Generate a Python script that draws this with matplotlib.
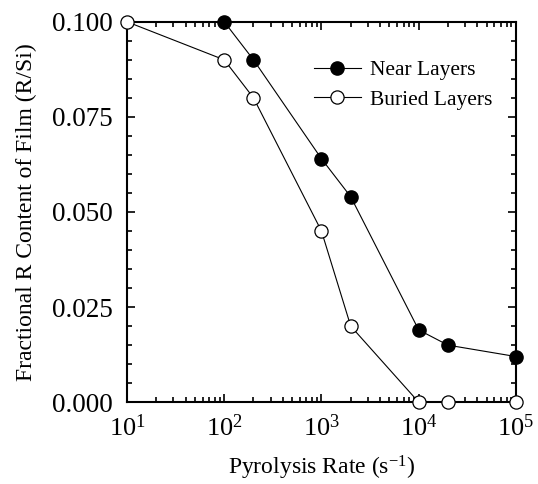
import matplotlib
matplotlib.use("Agg")
import matplotlib.pyplot as plt
from matplotlib.ticker import LogLocator, MultipleLocator, FixedFormatter, FixedLocator

plt.rcParams['font.family'] = ['Liberation Serif', 'DejaVu Serif']
plt.rcParams['mathtext.fontset'] = 'custom'
plt.rcParams['mathtext.rm'] = 'Liberation Serif'
plt.rcParams['mathtext.it'] = 'Liberation Serif:italic'

near_x = [100, 200, 1000, 2000, 10000, 20000, 100000]
near_y = [0.100, 0.090, 0.064, 0.054, 0.019, 0.015, 0.012]
buried_x = [10, 100, 200, 1000, 2000, 10000, 20000, 100000]
buried_y = [0.100, 0.090, 0.080, 0.045, 0.020, 0.000, 0.000, 0.000]
yticks = [0.000, 0.025, 0.050, 0.075, 0.100]
ytick_labels = ["0.000", "0.025", "0.050", "0.075", "0.100"]
xticks = [10, 100, 1000, 10000, 100000]
xtick_labels = ["$10^1$", "$10^2$", "$10^3$", "$10^4$", "$10^5$"]

fig = plt.figure(figsize=(5.38, 4.84), dpi=100)
ax = fig.add_axes([0.236, 0.169, 0.723, 0.786])

ax.plot(near_x, near_y, '-o', color='black', lw=0.8, ms=9.5, mfc='black', mec='black',
        label='Near Layers', clip_on=False, zorder=3)
ax.plot(buried_x, buried_y, '-o', color='black', lw=0.8, ms=9.5, mfc='white', mec='black',
        mew=0.9, label='Buried Layers', clip_on=False, zorder=3)

ax.set_xscale('log')
ax.set_xlim(10, 1e5)
ax.set_ylim(0, 0.1)
ax.xaxis.set_major_locator(FixedLocator(xticks))
ax.xaxis.set_major_formatter(FixedFormatter(xtick_labels))
ax.xaxis.set_minor_locator(LogLocator(base=10, subs=range(2, 10), numticks=20))
ax.yaxis.set_major_locator(FixedLocator(yticks))
ax.yaxis.set_major_formatter(FixedFormatter(ytick_labels))
ax.yaxis.set_minor_locator(MultipleLocator(0.005))

ax.tick_params(which='both', direction='in', top=True, right=True, labelsize=19.5, width=1.2)
ax.tick_params(which='major', length=6)
ax.tick_params(which='minor', length=3.5)
ax.tick_params(axis='x', which='major', labelsize=19, pad=9)
ax.tick_params(axis='y', which='major', pad=10)
for s in ax.spines.values():
    s.set_linewidth(1.5)

ax.set_xlabel("Pyrolysis Rate (s$^{-1}$)", fontsize=17, labelpad=9)
ax.set_ylabel("Fractional R Content of Film (R/Si)", fontsize=17, labelpad=11)

ax.legend(loc='upper right', bbox_to_anchor=(0.988, 0.95), frameon=False, fontsize=15.5,
          handlelength=2.2, handletextpad=0.4, labelspacing=0.45)

fig.savefig("out.png", dpi=100)
